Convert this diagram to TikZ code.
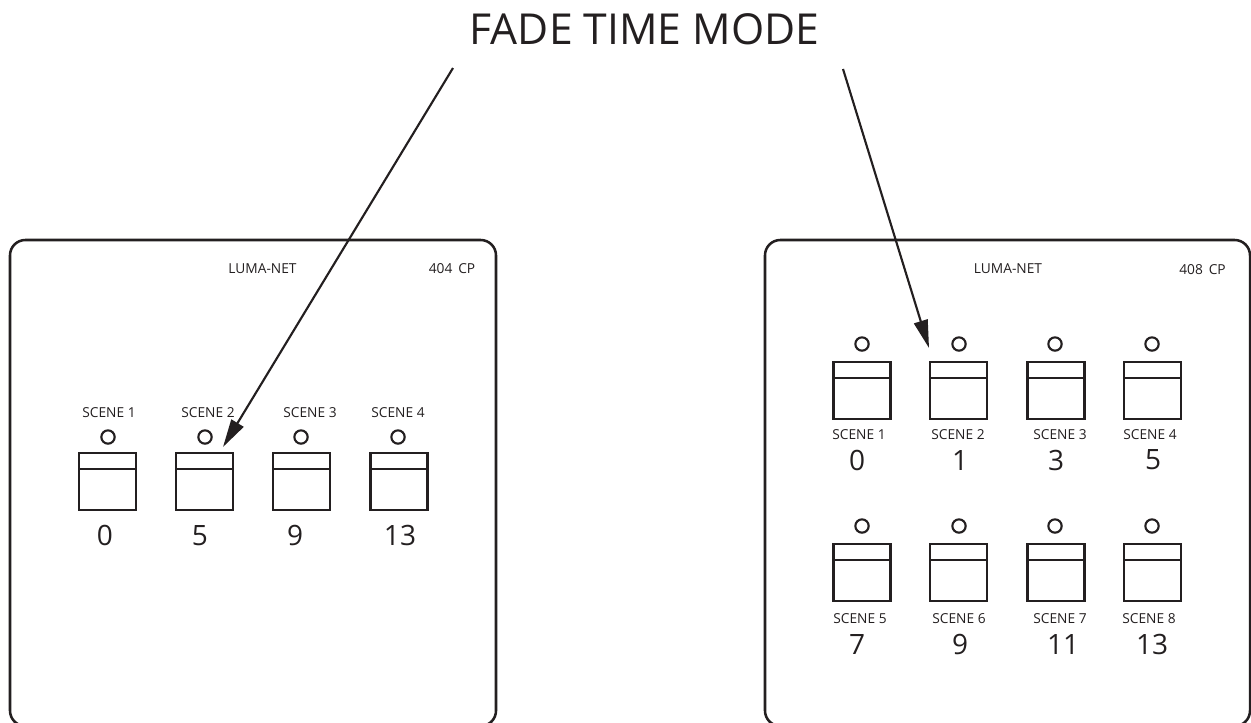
\documentclass[tikz,border=0pt]{standalone}
\usepackage{fontspec}
\setmainfont{Open Sans}
\usetikzlibrary{arrows.meta}
\definecolor{ink}{HTML}{231F20}
\tikzset{
  panel/.style={draw=ink,line width=1.9pt,rounded corners=11.5pt},
  btn/.style={draw=ink,line width=1.7pt,minimum width=42.75pt,minimum height=42.75pt,inner sep=0pt,outer sep=0pt},
  bar/.style={draw=ink,line width=1.7pt},
  led/.style={draw=ink,line width=1.6pt,circle,minimum size=10pt,inner sep=0pt},
  small/.style={text=ink,font=\fontsize{10.3pt}{12pt}\selectfont,inner sep=0pt},
  num/.style={text=ink,font=\fontsize{21pt}{24pt}\selectfont,inner sep=0pt},
  ttl/.style={text=ink,font=\fontsize{32pt}{36pt}\selectfont,inner sep=0pt},
  pointer/.style={draw=ink,line width=1.6pt,-{Triangle[length=21pt,width=10.5pt]}}
}
\begin{document}
\begin{tikzpicture}[x=0.75pt,y=-0.75pt]
\useasboundingbox (0,0) rectangle (1251,722);
\draw[panel] (10,726) rectangle (496,240);
\draw[panel] (765,726) rectangle (1250,240);
\node[ttl] (title) at (644.5,29.5) {FADE TIME MODE};
\node[small] (ln1) at (262.5,269) {LUMA-NET};
\node[small] (cp1) at (452,269) {404\, CP};
\node[small] (ln2) at (1008,269) {LUMA-NET};
\node[small] (cp2) at (1202.5,270) {408\, CP};
% left
\foreach \n/\x/\lx/\t/\v/\sx/\nx in {a/107.5/108/SCENE 1/0/109/105, c/204.5/205/SCENE 2/5/208/200, e/301.5/301/SCENE 3/9/310/295, g/399/398/SCENE 4/13/398/400}{
  \node[btn] (b\n) at (\x,481.5) {};
  \draw[bar] (b\n.west |- 0,469) -- (b\n.east |- 0,469);
  \node[led] (l\n) at (\lx,437) {};
  \node[small] (s\n) at (\sx,413) {\t};
  \node[num] (v\n) at (\nx,535.5) {\v};
}
% right rows
\foreach \n/\x/\lx/\t/\v/\sx/\nx in {p/862/862/SCENE 1/0/859/857, q/958.5/959/SCENE 2/1/958/960, r/1056/1055/SCENE 3/3/1060/1056, s/1152.5/1152/SCENE 4/5/1150/1153}{
  \node[btn] (b\n) at (\x,390.5) {};
  \draw[bar] (b\n.west |- 0,378) -- (b\n.east |- 0,378);
  \node[led] (l\n) at (\lx,344) {};
  \node[small] (s\n) at (\sx,435) {\t};
  \node[num] (v\n) at (\nx,460) {\v};
}
\foreach \n/\x/\lx/\t/\v/\sx/\nx in {t/862/862/SCENE 5/7/860/857, u/958.5/959/SCENE 6/9/959/960, w/1056/1055/SCENE 7/11/1060/1063, z/1152.5/1152/SCENE 8/13/1149/1152}{
  \node[btn] (b\n) at (\x,572.5) {};
  \draw[bar] (b\n.west |- 0,560) -- (b\n.east |- 0,560);
  \node[led] (l\n) at (\lx,526) {};
  \node[small] (s\n) at (\sx,619) {\t};
  \node[num] (v\n) at (\nx,644) {\v};
}
\coordinate (p1s) at (453,68);
\coordinate (p1e) at (223,447);
\coordinate (p2s) at (843,69);
\coordinate (p2e) at (929,348);
\draw[pointer] (p1s) -- (p1e);
\draw[pointer] (p2s) -- (p2e);
\end{tikzpicture}
\end{document}
